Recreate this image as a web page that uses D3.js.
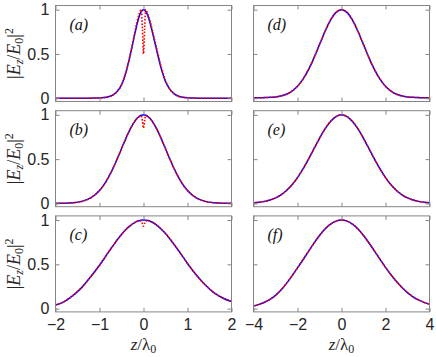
<!DOCTYPE html>
<html>
<head>
<meta charset="utf-8">
<script src="https://cdn.jsdelivr.net/npm/d3@7"></script>
<style>
body { margin: 0; background: #fff; }
</style>
</head>
<body>
<div id="chart-area"></div>
<script>

// SVG Size
var width = 436,
	height = 357;

// sample positions (z / lambda0)
var zLeft = [-2, -1.8, -1.6, -1.4, -1.2, -1, -0.9, -0.8, -0.7, -0.6, -0.5, -0.4, -0.3, -0.2, -0.15, -0.1, -0.05, -0.025,
	0, 0.025, 0.05, 0.1, 0.15, 0.2, 0.3, 0.4, 0.5, 0.6, 0.7, 0.8, 0.9, 1, 1.2, 1.4, 1.6, 1.8, 2];
var zRight = [-4, -3.75, -3.5, -3.25, -3, -2.75, -2.5, -2.25, -2, -1.75, -1.5, -1.25, -1, -0.75, -0.5, -0.25,
	0, 0.25, 0.5, 0.75, 1, 1.25, 1.5, 1.75, 2, 2.25, 2.5, 2.75, 3, 3.25, 3.5, 3.75, 4];

// |Ez/E0|^2, blue = solid, red = dotted
var blueA = [0, 0, 0, 0, 0.001, 0.003, 0.007, 0.016, 0.035, 0.075, 0.15, 0.29, 0.49, 0.72, 0.83, 0.92, 0.98, 0.995,
	1, 0.995, 0.98, 0.93, 0.85, 0.75, 0.54, 0.34, 0.19, 0.1, 0.05, 0.022, 0.01, 0.004, 0.001, 0, 0, 0, 0];
var redA = [0, 0, 0, 0, 0.001, 0.002, 0.006, 0.015, 0.035, 0.075, 0.15, 0.29, 0.5, 0.74, 0.86, 0.95, 1, 0.78,
	0.5, 0.78, 1, 0.95, 0.87, 0.77, 0.56, 0.36, 0.2, 0.1, 0.05, 0.02, 0.009, 0.003, 0.001, 0, 0, 0, 0];

var blueB = [0.001, 0.002, 0.007, 0.023, 0.062, 0.146, 0.21, 0.292, 0.389, 0.5, 0.618, 0.735, 0.841, 0.926, 0.958, 0.981, 0.995, 0.999,
	1, 0.999, 0.995, 0.981, 0.958, 0.926, 0.841, 0.735, 0.618, 0.5, 0.389, 0.292, 0.21, 0.146, 0.062, 0.023, 0.007, 0.002, 0.001];
var redB = [0.001, 0.002, 0.007, 0.023, 0.062, 0.146, 0.21, 0.292, 0.389, 0.5, 0.618, 0.735, 0.841, 0.926, 0.958, 0.981, 0.99, 0.93,
	0.85, 0.93, 0.99, 0.981, 0.958, 0.926, 0.841, 0.735, 0.618, 0.5, 0.389, 0.292, 0.21, 0.146, 0.062, 0.023, 0.007, 0.002, 0.001];

var blueC = [0.04, 0.08, 0.15, 0.24, 0.36, 0.49, 0.56, 0.635, 0.705, 0.775, 0.838, 0.893, 0.938, 0.972, 0.985, 0.993, 0.998, 1,
	1, 1, 0.998, 0.994, 0.987, 0.975, 0.943, 0.9, 0.848, 0.787, 0.722, 0.653, 0.582, 0.51, 0.38, 0.27, 0.18, 0.12, 0.08];
var redC = [0.04, 0.08, 0.15, 0.24, 0.36, 0.49, 0.56, 0.635, 0.705, 0.775, 0.838, 0.893, 0.938, 0.972, 0.985, 0.993, 0.99, 0.96,
	0.93, 0.96, 0.99, 0.994, 0.987, 0.975, 0.943, 0.9, 0.848, 0.787, 0.722, 0.653, 0.582, 0.51, 0.38, 0.27, 0.18, 0.12, 0.08];

var blueD = [0.004, 0.005, 0.007, 0.01, 0.015, 0.026, 0.045, 0.08, 0.134, 0.215, 0.323, 0.456, 0.605, 0.754, 0.882, 0.969,
	1, 0.969, 0.882, 0.754, 0.605, 0.456, 0.323, 0.215, 0.134, 0.08, 0.045, 0.026, 0.015, 0.01, 0.007, 0.005, 0.004];
var blueE = [0.007, 0.013, 0.023, 0.039, 0.062, 0.097, 0.146, 0.21, 0.292, 0.389, 0.5, 0.618, 0.735, 0.841, 0.926, 0.981,
	1, 0.981, 0.926, 0.841, 0.735, 0.618, 0.5, 0.389, 0.292, 0.21, 0.146, 0.097, 0.062, 0.039, 0.023, 0.013, 0.007];
var blueF = [0.03, 0.048, 0.072, 0.105, 0.15, 0.21, 0.285, 0.37, 0.46, 0.552, 0.646, 0.74, 0.825, 0.898, 0.953, 0.988,
	1, 0.988, 0.953, 0.898, 0.825, 0.741, 0.65, 0.557, 0.466, 0.382, 0.305, 0.238, 0.18, 0.134, 0.098, 0.07, 0.05];
// right column: dotted curve sits on the solid one
var redD = blueD, redE = blueE, redF = blueF;

var panelLabels = ["(a)", "(b)", "(c)", "(d)", "(e)", "(f)"];
var leftTicks = [-2, -1, 0, 1, 2];
var rightTicks = [-4, -2, 0, 2, 4];
var yTicks = [0, 0.5, 1];

var panels = [
	{ label: panelLabels[0], col: 0, row: 0, z: zLeft, blue: blueA, red: redA },
	{ label: panelLabels[1], col: 0, row: 1, z: zLeft, blue: blueB, red: redB },
	{ label: panelLabels[2], col: 0, row: 2, z: zLeft, blue: blueC, red: redC },
	{ label: panelLabels[3], col: 1, row: 0, z: zRight, blue: blueD, red: redD },
	{ label: panelLabels[4], col: 1, row: 1, z: zRight, blue: blueE, red: redE },
	{ label: panelLabels[5], col: 1, row: 2, z: zRight, blue: blueF, red: redF }
];

var colLeft = [55.5, 253.5],
	colWidth = 176,
	rowTop = [5.5, 110.7, 215.9],
	rowHeight = 96;

var frameColor = "#858585",
	textColor = "#262626",
	serif = "'Liberation Serif', 'DejaVu Serif', serif";

var svg = d3.select("#chart-area")
	.append("svg")
	.attr("width", width)
	.attr("height", height)
	.style("font-family", "'Liberation Sans', Arial, sans-serif");

var xScales = [
	d3.scaleLinear().domain([-2, 2]).range([0, colWidth]),
	d3.scaleLinear().domain([-4, 4]).range([0, colWidth])
];
var yScale = d3.scaleLinear().domain([-0.037, 1.047]).range([rowHeight, 0]);

svg.append("defs").append("clipPath").attr("id", "plot-clip")
	.append("rect").attr("width", colWidth).attr("height", rowHeight);

panels.forEach(function(p) {
	var x = xScales[p.col];
	var ticks = p.col === 0 ? leftTicks : rightTicks;
	var g = svg.append("g")
		.attr("transform", "translate(" + colLeft[p.col] + "," + rowTop[p.row] + ")");

	var line = d3.line()
		.x(function(d, i) { return x(p.z[i]); })
		.y(function(d) { return yScale(d); })
		.curve(d3.curveMonotoneX);

	var plot = g.append("g").attr("clip-path", "url(#plot-clip)");
	plot.append("path")
		.attr("d", line(p.blue))
		.attr("fill", "none")
		.attr("stroke", "#0000ff")
		.attr("stroke-width", 1.5);
	plot.append("path")
		.attr("d", line(p.red))
		.attr("fill", "none")
		.attr("stroke", "#ff0000")
		.attr("stroke-width", 1.6)
		.attr("stroke-dasharray", "1.6,1.6");

	// axes, ticks pointing inward
	var bottom = g.append("g")
		.attr("transform", "translate(0," + rowHeight + ")")
		.call(d3.axisBottom(x).tickValues(ticks).tickSize(-4).tickSizeOuter(0).tickPadding(7)
			.tickFormat(p.row === 2 ? d3.format("d") : ""));
	var top = g.append("g")
		.call(d3.axisTop(x).tickValues(ticks).tickSize(-4).tickSizeOuter(0).tickFormat(""));
	var left = g.append("g")
		.call(d3.axisLeft(yScale).tickValues(yTicks).tickSize(-4).tickSizeOuter(0).tickPadding(6)
			.tickFormat(p.col === 0 ? function(d) { return d === 0.5 ? "0.5" : d3.format("d")(d); } : ""));
	var right = g.append("g")
		.attr("transform", "translate(" + colWidth + ",0)")
		.call(d3.axisRight(yScale).tickValues(yTicks).tickSize(-4).tickSizeOuter(0).tickFormat(""));

	[bottom, top, left, right].forEach(function(a) {
		a.select(".domain").attr("stroke", frameColor).attr("d", null);
		a.selectAll(".tick line").attr("stroke", frameColor);
		a.selectAll("text").attr("fill", textColor).style("font-size", "16px")
			.style("font-family", "'Liberation Sans', Arial, sans-serif");
	});

	// frame
	g.append("rect")
		.attr("width", colWidth)
		.attr("height", rowHeight)
		.attr("fill", "none")
		.attr("stroke", frameColor)
		.attr("stroke-width", 1);

	g.append("text")
		.attr("x", 14)
		.attr("y", 24)
		.attr("fill", "#111")
		.style("font-family", serif)
		.style("font-style", "italic")
		.style("font-size", "16px")
		.text(p.label);

	// y label for left column
	if (p.col === 0) {
		var yl = svg.append("text")
			.attr("transform", "translate(20," + (rowTop[p.row] + rowHeight / 2) + ") rotate(-90)")
			.attr("text-anchor", "middle")
			.attr("fill", textColor)
			.style("font-family", serif)
			.style("font-size", "18px");
		yl.append("tspan").text("|");
		yl.append("tspan").style("font-style", "italic").text("E");
		yl.append("tspan").style("font-style", "italic").style("font-size", "12px").attr("dy", 3).text("z");
		yl.append("tspan").attr("dy", -3).text("/");
		yl.append("tspan").style("font-style", "italic").text("E");
		yl.append("tspan").style("font-size", "12px").attr("dy", 3).text("0");
		yl.append("tspan").attr("dy", -3).text("|");
		yl.append("tspan").style("font-size", "12px").attr("dy", -7).text("2");
	}
});

// x labels
[0, 1].forEach(function(c) {
	var xl = svg.append("text")
		.attr("x", colLeft[c] + colWidth / 2)
		.attr("y", 350)
		.attr("text-anchor", "middle")
		.attr("fill", textColor)
		.style("font-family", serif)
		.style("font-size", "17px");
	xl.append("tspan").style("font-style", "italic").text("z");
	xl.append("tspan").text("/λ");
	xl.append("tspan").style("font-size", "12px").attr("dy", 3).text("0");
});

</script>
</body>
</html>
